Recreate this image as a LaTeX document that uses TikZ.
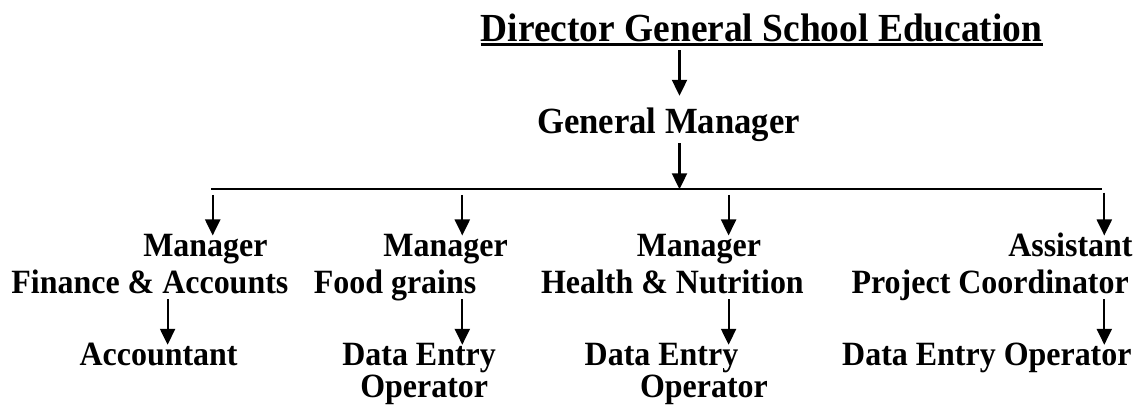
\documentclass[tikz,border=0pt]{standalone}
\usepackage{fontspec}
\setmainfont{Liberation Serif}[FakeStretch=0.94]
\usetikzlibrary{arrows.meta,calc}
\tikzset{
  role/.style={font=\fontsize{34}{40}\selectfont\bfseries, inner sep=0pt, text height=21pt, text depth=6pt, anchor=base},
  arr/.style={-{Triangle[length=16pt,width=15pt]}, line width=2.2pt},
}

\begin{document}
\begin{tikzpicture}[x=1pt,y=1pt]
            \useasboundingbox (0,0) rectangle (1136,407);
            % top of the chart
            \node[role, font=\fontsize{39.8}{46}\selectfont\bfseries, text depth=8.5pt] (dg) at (761.6,365.5) {Director General School Education};
            \draw[line width=3pt] ([yshift=-3.5pt]dg.base west) -- ([yshift=-3.5pt]dg.base east);
            \node[role, font=\fontsize{36.9}{43}\selectfont\bfseries, text height=37.3pt, text depth=9.7pt] (gm) at (668.5,273.7) {General Manager};
            % managers
            \node[role] (mgrFin) at (205.4,150.3) {Manager};
            \node[role] (fin) at (149.9,113.7) {Finance \& Accounts};
            \node[role] (mgrFood) at (445.6,150.3) {Manager};
            \node[role] (food) at (395.1,113.7) {Food grains};
            \node[role] (mgrHealth) at (698.9,150.3) {Manager};
            \node[role] (health) at (672.4,113.7) {Health \& Nutrition};
            \node[role] (asst) at (1070.4,150.3) {Assistant};
            \node[role] (proj) at (990.2,113.7) {Project Coordinator};
            % staff
            \node[role] (acc) at (158.6,41) {Accountant};
            \node[role] (deoFood) at (419.1,41) {Data Entry};
            \node[role] (opFood) at (424.2,9) {Operator};
            \node[role] (deoHealth) at (661.5,41) {Data Entry};
            \node[role] (opHealth) at (703.9,9) {Operator};
            \node[role] (deoProj) at (986.9,41) {Data Entry Operator};
            % connectors
            \coordinate (c0) at (679.5,217.7);
            \coordinate (barL) at (211,217.7);
            \coordinate (barR) at (1102,217.7);
            \coordinate (b1) at (212.7,217.7);
            \coordinate (b2) at (462.3,217.7);
            \coordinate (b3) at (728.6,217.7);
            \coordinate (b4) at (1104.3,217.7);
            \coordinate (d1) at (167.6,0);
            \draw[arr] (dg.south -| c0) -- (gm.north -| c0);
            \draw[arr] (gm.south -| c0) -- (c0);
            \draw[line width=2pt] (barL) -- (barR);
            \draw[arr, shorten <=5.7pt] (b1) -- (b1 |- mgrFin.north);
            \draw[arr, shorten <=5.7pt] (b2) -- (b2 |- mgrFood.north);
            \draw[arr, shorten <=5.7pt] (b3) -- (b3 |- mgrHealth.north);
            \draw[arr, shorten <=3.4pt] (b4) -- (b4 |- asst.north);
            \draw[arr] (fin.south -| d1) -- (acc.north -| d1);
            \draw[arr] (food.south -| b2) -- (deoFood.north -| b2);
            \draw[arr] (health.south -| b3) -- (deoHealth.north -| b3);
            \draw[arr] (proj.south -| b4) -- (deoProj.north -| b4);
\end{tikzpicture}
\end{document}
